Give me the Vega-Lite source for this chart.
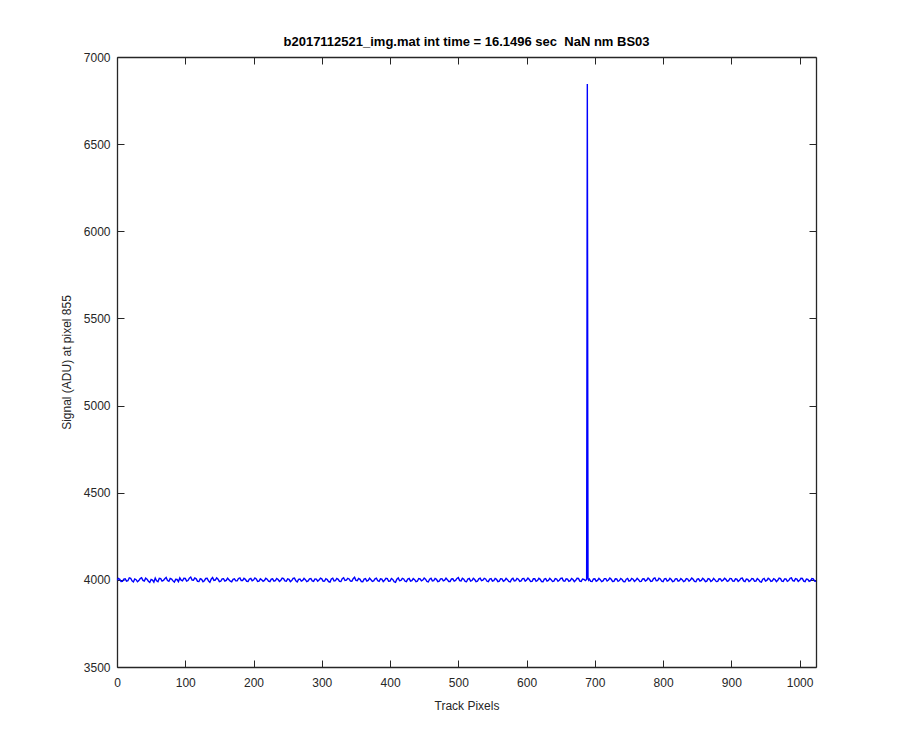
{
  "$schema": "https://vega.github.io/schema/vega-lite/v6.json",
  "width": 699,
  "height": 610,
  "autosize": "none",
  "padding": {"left": 117, "top": 57, "right": 84, "bottom": 83},
  "background": "white",
  "title": {
    "text": "b2017112521_img.mat int time = 16.1496 sec \u00a0NaN nm BS03",
    "font": "Liberation Sans",
    "fontSize": 13,
    "fontWeight": "bold",
    "color": "#000000",
    "anchor": "middle",
    "frame": "group",
    "offset": 2
  },
  "config": {
    "view": {"stroke": null},
    "axis": {
      "domainColor": "#262626",
      "domainWidth": 1.3,
      "tickColor": "#262626",
      "tickWidth": 1,
      "tickSize": -7,
      "labelFont": "Liberation Sans",
      "labelFontSize": 12,
      "labelColor": "#262626",
      "titleFont": "Liberation Sans",
      "titleFontSize": 12,
      "titleFontWeight": "normal",
      "titleColor": "#262626",
      "grid": false
    }
  },
  "data": {
    "values": [
      {"x":0,"y":3998},{"x":2,"y":4008},{"x":4,"y":4003},{"x":6,"y":3990},{"x":8,"y":3991},{"x":10,"y":4004},{"x":12,"y":4006},{"x":14,"y":3993},{"x":16,"y":3995},{"x":18,"y":4012},
      {"x":20,"y":4009},{"x":22,"y":3994},{"x":24,"y":3988},{"x":26,"y":4005},{"x":28,"y":4001},{"x":30,"y":3989},{"x":32,"y":3996},{"x":34,"y":4007},{"x":36,"y":4012},{"x":38,"y":3997},
      {"x":40,"y":3993},{"x":42,"y":4010},{"x":44,"y":4004},{"x":46,"y":3992},{"x":48,"y":3985},{"x":50,"y":4002},{"x":52,"y":3999},{"x":54,"y":3987},{"x":56,"y":4010},{"x":58,"y":3995},
      {"x":60,"y":3990},{"x":62,"y":4009},{"x":64,"y":4007},{"x":66,"y":3993},{"x":68,"y":3997},{"x":70,"y":4006},{"x":72,"y":4014},{"x":74,"y":3996},{"x":76,"y":3992},{"x":78,"y":4008},
      {"x":80,"y":4005},{"x":82,"y":3994},{"x":84,"y":3987},{"x":86,"y":4003},{"x":88,"y":4002},{"x":90,"y":3990},{"x":92,"y":4011},{"x":94,"y":3998},{"x":96,"y":3994},{"x":98,"y":4009},
      {"x":100,"y":4008},{"x":102,"y":3993},{"x":104,"y":3996},{"x":106,"y":4010},{"x":108,"y":4016},{"x":110,"y":3999},{"x":112,"y":3998},{"x":114,"y":4011},{"x":116,"y":4006},{"x":118,"y":3991},
      {"x":120,"y":3990},{"x":122,"y":4007},{"x":124,"y":4003},{"x":126,"y":3989},{"x":128,"y":3995},{"x":130,"y":4008},{"x":132,"y":4009},{"x":134,"y":3994},{"x":136,"y":3986},{"x":138,"y":4004},
      {"x":140,"y":4013},{"x":142,"y":3997},{"x":144,"y":3999},{"x":146,"y":4012},{"x":148,"y":4004},{"x":150,"y":3990},{"x":152,"y":3992},{"x":154,"y":4006},{"x":156,"y":4007},{"x":158,"y":3993},
      {"x":160,"y":3997},{"x":162,"y":4010},{"x":164,"y":4001},{"x":166,"y":3992},{"x":168,"y":3989},{"x":170,"y":4003},{"x":172,"y":4006},{"x":174,"y":3994},{"x":176,"y":3994},{"x":178,"y":4008},
      {"x":180,"y":4011},{"x":182,"y":3996},{"x":184,"y":3996},{"x":186,"y":4009},{"x":188,"y":4003},{"x":190,"y":3992},{"x":192,"y":3991},{"x":194,"y":4005},{"x":196,"y":4008},{"x":198,"y":3995},
      {"x":200,"y":3999},{"x":202,"y":4011},{"x":204,"y":4005},{"x":206,"y":3991},{"x":208,"y":3993},{"x":210,"y":4006},{"x":212,"y":4000},{"x":214,"y":3992},{"x":216,"y":3997},{"x":218,"y":4009},
      {"x":220,"y":4004},{"x":222,"y":3993},{"x":224,"y":3990},{"x":226,"y":4004},{"x":228,"y":4006},{"x":230,"y":3992},{"x":232,"y":3995},{"x":234,"y":4008},{"x":236,"y":4002},{"x":238,"y":3991},
      {"x":240,"y":3998},{"x":242,"y":4010},{"x":244,"y":4007},{"x":246,"y":3994},{"x":248,"y":3992},{"x":250,"y":4006},{"x":252,"y":4003},{"x":254,"y":3990},{"x":256,"y":3996},{"x":258,"y":4008},
      {"x":260,"y":4010},{"x":262,"y":3995},{"x":264,"y":3988},{"x":266,"y":4003},{"x":268,"y":4005},{"x":270,"y":3993},{"x":272,"y":3997},{"x":274,"y":4009},{"x":276,"y":4001},{"x":278,"y":3990},
      {"x":280,"y":3994},{"x":282,"y":4006},{"x":284,"y":4008},{"x":286,"y":3994},{"x":288,"y":3991},{"x":290,"y":4005},{"x":292,"y":4004},{"x":294,"y":3992},{"x":296,"y":3999},{"x":298,"y":4010},
      {"x":300,"y":4006},{"x":302,"y":3992},{"x":304,"y":3993},{"x":306,"y":4007},{"x":308,"y":4002},{"x":310,"y":3990},{"x":312,"y":3987},{"x":314,"y":4005},{"x":316,"y":4009},{"x":318,"y":3994},
      {"x":320,"y":3996},{"x":322,"y":4008},{"x":324,"y":4003},{"x":326,"y":3991},{"x":328,"y":3990},{"x":330,"y":4006},{"x":332,"y":4012},{"x":334,"y":3996},{"x":336,"y":3998},{"x":338,"y":4009},
      {"x":340,"y":4005},{"x":342,"y":3993},{"x":344,"y":3992},{"x":346,"y":4007},{"x":348,"y":4015},{"x":350,"y":3997},{"x":352,"y":3995},{"x":354,"y":4008},{"x":356,"y":4003},{"x":358,"y":3990},
      {"x":360,"y":3989},{"x":362,"y":4004},{"x":364,"y":4007},{"x":366,"y":3993},{"x":368,"y":3997},{"x":370,"y":4010},{"x":372,"y":4001},{"x":374,"y":3991},{"x":376,"y":3994},{"x":378,"y":4006},
      {"x":380,"y":4010},{"x":382,"y":3995},{"x":384,"y":3991},{"x":386,"y":4006},{"x":388,"y":4004},{"x":390,"y":3990},{"x":392,"y":3998},{"x":394,"y":4009},{"x":396,"y":4007},{"x":398,"y":3992},
      {"x":400,"y":3993},{"x":402,"y":4008},{"x":404,"y":4002},{"x":406,"y":3989},{"x":408,"y":3986},{"x":410,"y":4004},{"x":412,"y":4011},{"x":414,"y":3995},{"x":416,"y":3997},{"x":418,"y":4009},
      {"x":420,"y":4005},{"x":422,"y":3992},{"x":424,"y":3990},{"x":426,"y":4005},{"x":428,"y":4008},{"x":430,"y":3993},{"x":432,"y":3995},{"x":434,"y":4007},{"x":436,"y":4001},{"x":438,"y":3990},
      {"x":440,"y":3992},{"x":442,"y":4008},{"x":444,"y":4006},{"x":446,"y":3994},{"x":448,"y":3999},{"x":450,"y":4010},{"x":452,"y":4004},{"x":454,"y":3991},{"x":456,"y":3988},{"x":458,"y":4004},
      {"x":460,"y":4009},{"x":462,"y":3994},{"x":464,"y":3996},{"x":466,"y":4008},{"x":468,"y":4003},{"x":470,"y":3990},{"x":472,"y":3993},{"x":474,"y":4006},{"x":476,"y":4007},{"x":478,"y":3994},
      {"x":480,"y":3998},{"x":482,"y":4010},{"x":484,"y":4001},{"x":486,"y":3991},{"x":488,"y":3991},{"x":490,"y":4005},{"x":492,"y":4006},{"x":494,"y":3993},{"x":496,"y":3997},{"x":498,"y":4008},
      {"x":500,"y":4013},{"x":502,"y":3996},{"x":504,"y":3994},{"x":506,"y":4009},{"x":508,"y":4004},{"x":510,"y":3991},{"x":512,"y":3989},{"x":514,"y":4005},{"x":516,"y":4008},{"x":518,"y":3993},
      {"x":520,"y":3996},{"x":522,"y":4009},{"x":524,"y":4002},{"x":526,"y":3990},{"x":528,"y":3992},{"x":530,"y":4006},{"x":532,"y":4010},{"x":534,"y":3995},{"x":536,"y":3998},{"x":538,"y":4009},
      {"x":540,"y":4005},{"x":542,"y":3992},{"x":544,"y":3990},{"x":546,"y":4004},{"x":548,"y":4007},{"x":550,"y":3993},{"x":552,"y":3995},{"x":554,"y":4008},{"x":556,"y":4003},{"x":558,"y":3990},
      {"x":560,"y":3993},{"x":562,"y":4007},{"x":564,"y":4006},{"x":566,"y":3992},{"x":568,"y":3997},{"x":570,"y":4009},{"x":572,"y":4001},{"x":574,"y":3991},{"x":576,"y":3988},{"x":578,"y":4003},
      {"x":580,"y":4009},{"x":582,"y":3994},{"x":584,"y":3996},{"x":586,"y":4008},{"x":588,"y":4004},{"x":590,"y":3991},{"x":592,"y":3994},{"x":594,"y":4007},{"x":596,"y":4008},{"x":598,"y":3993},
      {"x":600,"y":3999},{"x":602,"y":4010},{"x":604,"y":4002},{"x":606,"y":3990},{"x":608,"y":3991},{"x":610,"y":4006},{"x":612,"y":4006},{"x":614,"y":3992},{"x":616,"y":3996},{"x":618,"y":4009},
      {"x":620,"y":4003},{"x":622,"y":3990},{"x":624,"y":3989},{"x":626,"y":4004},{"x":628,"y":4007},{"x":630,"y":3993},{"x":632,"y":3997},{"x":634,"y":4009},{"x":636,"y":4001},{"x":638,"y":3991},
      {"x":640,"y":3993},{"x":642,"y":4007},{"x":644,"y":4005},{"x":646,"y":3992},{"x":648,"y":3998},{"x":650,"y":4009},{"x":652,"y":4010},{"x":654,"y":3994},{"x":656,"y":3992},{"x":658,"y":4006},
      {"x":660,"y":4004},{"x":662,"y":3991},{"x":664,"y":3995},{"x":666,"y":4008},{"x":668,"y":4002},{"x":670,"y":3990},{"x":672,"y":3997},{"x":674,"y":4009},{"x":676,"y":4008},{"x":678,"y":3993},
      {"x":680,"y":3991},{"x":682,"y":4005},{"x":684,"y":4003},{"x":686,"y":3996},{"x":688,"y":4002},{"x":689,"y":6845},{"x":690,"y":4010},{"x":691,"y":3998},{"x":692,"y":4004},{"x":694,"y":3991},
      {"x":696,"y":3990},{"x":698,"y":4005},{"x":700,"y":4006},{"x":702,"y":3992},{"x":704,"y":3997},{"x":706,"y":4009},{"x":708,"y":4001},{"x":710,"y":3990},{"x":712,"y":3994},{"x":714,"y":4007},
      {"x":716,"y":4007},{"x":718,"y":3993},{"x":720,"y":3999},{"x":722,"y":4010},{"x":724,"y":4003},{"x":726,"y":3991},{"x":728,"y":3992},{"x":730,"y":4006},{"x":732,"y":4005},{"x":734,"y":3992},
      {"x":736,"y":3996},{"x":738,"y":4008},{"x":740,"y":4002},{"x":742,"y":3990},{"x":744,"y":3989},{"x":746,"y":4004},{"x":748,"y":4008},{"x":750,"y":3993},{"x":752,"y":3995},{"x":754,"y":4008},
      {"x":756,"y":4004},{"x":758,"y":3991},{"x":760,"y":3997},{"x":762,"y":4009},{"x":764,"y":4001},{"x":766,"y":3990},{"x":768,"y":3991},{"x":770,"y":4005},{"x":772,"y":4006},{"x":774,"y":3993},
      {"x":776,"y":3998},{"x":778,"y":4010},{"x":780,"y":4003},{"x":782,"y":3991},{"x":784,"y":3993},{"x":786,"y":4007},{"x":788,"y":4011},{"x":790,"y":3995},{"x":792,"y":3996},{"x":794,"y":4009},
      {"x":796,"y":4005},{"x":798,"y":3992},{"x":800,"y":3990},{"x":802,"y":4006},{"x":804,"y":4008},{"x":806,"y":3993},{"x":808,"y":3997},{"x":810,"y":4009},{"x":812,"y":4002},{"x":814,"y":3990},
      {"x":816,"y":3992},{"x":818,"y":4006},{"x":820,"y":4007},{"x":822,"y":3993},{"x":824,"y":3996},{"x":826,"y":4008},{"x":828,"y":4001},{"x":830,"y":3990},{"x":832,"y":3994},{"x":834,"y":4007},
      {"x":836,"y":4005},{"x":838,"y":3992},{"x":840,"y":3999},{"x":842,"y":4010},{"x":844,"y":4003},{"x":846,"y":3991},{"x":848,"y":3989},{"x":850,"y":4004},{"x":852,"y":4006},{"x":854,"y":3993},
      {"x":856,"y":3997},{"x":858,"y":4009},{"x":860,"y":4002},{"x":862,"y":3990},{"x":864,"y":3993},{"x":866,"y":4007},{"x":868,"y":4004},{"x":870,"y":3991},{"x":872,"y":3996},{"x":874,"y":4008},
      {"x":876,"y":4000},{"x":878,"y":3990},{"x":880,"y":3991},{"x":882,"y":4006},{"x":884,"y":4005},{"x":886,"y":3993},{"x":888,"y":3998},{"x":890,"y":4009},{"x":892,"y":4003},{"x":894,"y":3991},
      {"x":896,"y":3995},{"x":898,"y":4008},{"x":900,"y":4007},{"x":902,"y":3993},{"x":904,"y":3992},{"x":906,"y":4006},{"x":908,"y":4004},{"x":910,"y":3991},{"x":912,"y":3997},{"x":914,"y":4009},
      {"x":916,"y":4010},{"x":918,"y":3994},{"x":920,"y":3990},{"x":922,"y":4005},{"x":924,"y":4003},{"x":926,"y":3991},{"x":928,"y":3996},{"x":930,"y":4008},{"x":932,"y":4006},{"x":934,"y":3992},
      {"x":936,"y":3993},{"x":938,"y":4007},{"x":940,"y":4001},{"x":942,"y":3990},{"x":944,"y":3987},{"x":946,"y":4004},{"x":948,"y":4008},{"x":950,"y":3993},{"x":952,"y":3997},{"x":954,"y":4009},
      {"x":956,"y":4004},{"x":958,"y":3991},{"x":960,"y":3994},{"x":962,"y":4007},{"x":964,"y":4002},{"x":966,"y":3990},{"x":968,"y":3998},{"x":970,"y":4010},{"x":972,"y":4007},{"x":974,"y":3993},
      {"x":976,"y":3991},{"x":978,"y":4005},{"x":980,"y":4005},{"x":982,"y":3992},{"x":984,"y":3996},{"x":986,"y":4009},{"x":988,"y":4011},{"x":990,"y":3995},{"x":992,"y":3993},{"x":994,"y":4007},
      {"x":996,"y":4004},{"x":998,"y":3991},{"x":1000,"y":3997},{"x":1002,"y":4009},{"x":1004,"y":4008},{"x":1006,"y":3993},{"x":1008,"y":3990},{"x":1010,"y":4005},{"x":1012,"y":4003},{"x":1014,"y":3991},
      {"x":1016,"y":3995},{"x":1018,"y":4008},{"x":1020,"y":4006},{"x":1022,"y":3993},{"x":1024,"y":3992}
    ]
  },
  "layer": [
    {
      "mark": {"type": "line", "color": "#0000ff", "strokeWidth": 1.4, "clip": true},
      "encoding": {
        "x": {
          "field": "x", "type": "quantitative",
          "scale": {"domain": [0, 1024], "nice": false, "zero": false},
          "axis": {"orient": "bottom", "values": [0,100,200,300,400,500,600,700,800,900,1000], "format": "d", "title": "Track Pixels", "labelPadding": 17, "titlePadding": 12, "labelFlush": false}
        },
        "y": {
          "field": "y", "type": "quantitative",
          "scale": {"domain": [3500, 7000], "nice": false, "zero": false},
          "axis": {"orient": "left", "values": [3500,4000,4500,5000,5500,6000,6500,7000], "format": "d", "title": "Signal (ADU) at pixel 855", "labelPadding": 14, "titlePadding": 10, "labelFlush": false}
        }
      }
    },
    {
      "mark": {"type": "line", "opacity": 0},
      "encoding": {
        "x": {
          "field": "x", "type": "quantitative",
          "scale": {"domain": [0, 1024], "nice": false, "zero": false},
          "axis": {"orient": "top", "values": [0,100,200,300,400,500,600,700,800,900,1000], "labels": false, "title": null}
        },
        "y": {
          "field": "y", "type": "quantitative",
          "scale": {"domain": [3500, 7000], "nice": false, "zero": false},
          "axis": {"orient": "right", "values": [3500,4000,4500,5000,5500,6000,6500,7000], "labels": false, "title": null}
        }
      }
    }
  ],
  "resolve": {"axis": {"x": "independent", "y": "independent"}}
}
